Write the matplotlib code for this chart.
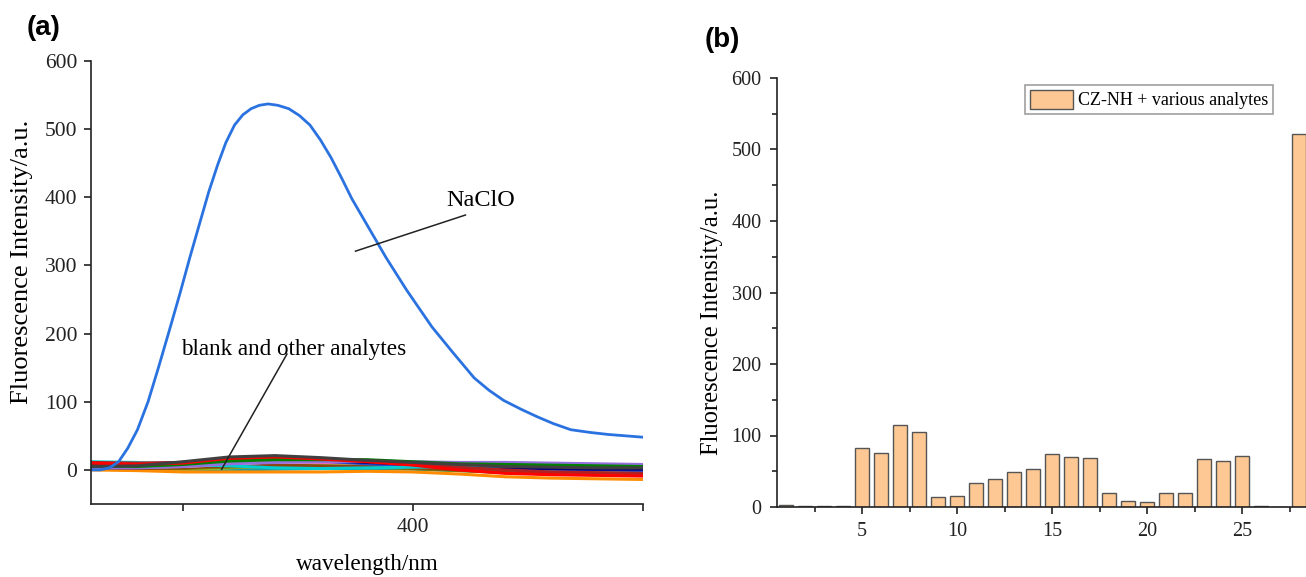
import numpy as np
import matplotlib
matplotlib.use("Agg")
import matplotlib.pyplot as plt

plt.rcParams['font.family'] = ['Liberation Serif', 'DejaVu Serif']

# (a) NaClO emission curve
wl_naclo = [330, 332, 334, 336, 338, 340.1, 342.4, 344.7, 347.0, 349.3, 351.5,
            353.8, 355.6, 357.5, 359.3, 361.2, 363.0, 364.8, 366.6, 368.5, 370.6,
            373.0, 375.3, 377.6, 379.9, 382.2, 384.5, 386.7, 390.4, 394.1, 398.6,
            404.1, 408.7, 413.3, 416.5, 419.7, 423.5, 427.0, 430.5, 434.3, 438.5,
            442.5, 450]
int_naclo = [0, 0, 3, 12, 32, 59, 100, 151, 204, 258, 312,
             366, 408, 447, 480, 506, 521, 530, 535, 537, 535,
             530, 520, 506, 484, 458, 428, 398, 355, 312, 264,
             210, 172, 135, 117, 102, 89, 78, 68, 59, 55,
             52, 48]

# (a) blank and other analytes
wl_other = [330, 340, 350, 360, 370, 380, 390, 400, 410, 420, 430, 440, 450]
other_lines = {
    '#1f9e9e': [4, 2, 0, 0, 1, 2, 2, 1, -1, -3, -4, -5, -6],
    '#9acd32': [1, 0, 1, 3, 6, 7, 6, 4, 1, -2, -3, -4, -5],
    '#808000': [2, 1, 2, 4, 5, 5, 4, 2, -1, -4, -6, -7, -8],
    '#ff8c00': [0, -1, -3, -3, -3, -3, -2, -3, -6, -10, -12, -13, -14],
    '#8b4513': [3, 2, 3, 6, 7, 6, 5, 3, 0, -4, -6, -7, -7],
    '#d0d0d0': [5, 4, 5, 8, 12, 13, 13, 10, 8, 6, 5, 4, 4],
    '#ff69b4': [7, 6, 7, 10, 12, 11, 10, 8, 6, 4, 3, 3, 3],
    '#1f4fd0': [8, 7, 9, 14, 16, 13, 9, 6, 4, 2, 1, 0, -1],
    '#000080': [9, 9, 11, 15, 17, 14, 11, 8, 5, 3, 2, 1, 1],
    '#00ced1': [12, 11, 8, 6, 3, 2, 3, 4, 5, 6, 6, 5, 4],
    '#b22222': [11, 10, 11, 15, 17, 16, 13, 9, 4, 0, -3, -4, -5],
    '#9370db': [3, 3, 5, 9, 11, 12, 13, 12, 11, 11, 10, 9, 8],
    '#008000': [6, 5, 8, 13, 15, 15, 15, 12, 9, 8, 7, 6, 5],
    '#ff0000': [10, 8, 10, 17, 19, 16, 12, 7, 0, -5, -7, -8, -9],
    '#404040': [5, 6, 12, 19, 21, 18, 14, 11, 8, 5, 4, 3, 3],
}

# (b) bar chart
analyte_no = list(range(1, 29))
bar_values = [3, 1, 2, 2, 83, 76, 114, 105, 14, 15, 33, 39, 49, 53, 74, 70, 69,
              20, 9, 7, 19, 19, 67, 65, 72, 1, 0, 522]

W, H = 1306, 577
fig = plt.figure(figsize=(W / 100, H / 100), dpi=100)

# ---------------- panel (a) ----------------
ax1 = fig.add_axes([91 / W, (H - 504) / H, (643 - 91) / W, (504 - 61) / H])
for col, vals in other_lines.items():
    ax1.plot(wl_other, vals, color=col, lw=2.2, solid_capstyle='butt')
ax1.plot(wl_naclo, int_naclo, color='#2a72e0', lw=2.0)

ax1.set_xlim(330, 450)
ax1.set_ylim(-50, 600)
ax1.set_xticks([350, 400, 450])
ax1.set_xticklabels(['', '400', ''])
ax1.set_yticks([0, 100, 200, 300, 400, 500, 600])
ax1.spines['top'].set_visible(False)
ax1.spines['right'].set_visible(False)
for s in ['left', 'bottom']:
    ax1.spines[s].set_linewidth(1.2)
    ax1.spines[s].set_color('#222222')
ax1.tick_params(direction='out', length=5, width=1.2, labelsize=15.5, pad=5, colors='#222222')
ax1.set_xlabel('wavelength/nm', fontsize=16.7, labelpad=12)
ax1.set_ylabel('Fluorescence Intensity/a.u.', fontsize=19)
ax1.yaxis.set_label_coords(-0.105, 0.546)

ax1.plot([387.5, 411.4], [321, 374], color='#222222', lw=1.1)
ax1.text(414.6, 396, 'NaClO', fontsize=17.5, ha='center', va='center')
ax1.plot([358.4, 372.6], [1, 170], color='#222222', lw=1.1)
ax1.text(374.1, 176, 'blank and other analytes', fontsize=16.7, ha='center', va='center')

fig.text(27 / W, 1 - 28 / H, '(a)', fontsize=20, fontweight='bold',
         family=['Liberation Sans', 'DejaVu Sans'], ha='left', va='center')

# ---------------- panel (b) ----------------
x0, ppu = 767, 19.0
xl, xr = 0.526, 29.0
ax2 = fig.add_axes([(x0 + xl * ppu) / W, (H - 507) / H, (xr - xl) * ppu / W, (507 - 78) / H])
ax2.bar(analyte_no, bar_values, width=0.78, color='#fdc893', edgecolor='#555555',
        linewidth=1.0, label='CZ-NH + various analytes')
ax2.set_xlim(xl, xr)
ax2.set_ylim(0, 600)
ax2.set_xticks([5, 10, 15, 20, 25])
ax2.set_xticks(np.arange(2.5, 29, 5), minor=True)
ax2.set_yticks([0, 100, 200, 300, 400, 500, 600])
ax2.set_yticks(np.arange(50, 600, 100), minor=True)
ax2.spines['top'].set_visible(False)
ax2.spines['right'].set_visible(False)
for s in ['left', 'bottom']:
    ax2.spines[s].set_linewidth(1.2)
    ax2.spines[s].set_color('#222222')
ax2.tick_params(which='major', direction='out', length=5, width=1.2, labelsize=14.5,
                pad=6, colors='#222222')
ax2.tick_params(which='minor', direction='out', length=3.5, width=1.2, colors='#222222')
ax2.set_ylabel('Fluorescence Intensity/a.u.', fontsize=17.7)
ax2.yaxis.set_label_coords(-0.10, 0.43)

leg = ax2.legend(loc='upper left', bbox_to_anchor=(1025 / W, 1 - 85 / H),
                 bbox_transform=fig.transFigure, fontsize=13.0, frameon=True,
                 fancybox=False, borderaxespad=0, handlelength=2.4, handleheight=1.25,
                 borderpad=0.25, handletextpad=0.3)
leg.get_frame().set_edgecolor('#888888')
leg.get_frame().set_linewidth(1.2)

fig.text(705 / W, 1 - 40 / H, '(b)', fontsize=20, fontweight='bold',
         family=['Liberation Sans', 'DejaVu Sans'], ha='left', va='center')

fig.savefig('out.png', dpi=100)
